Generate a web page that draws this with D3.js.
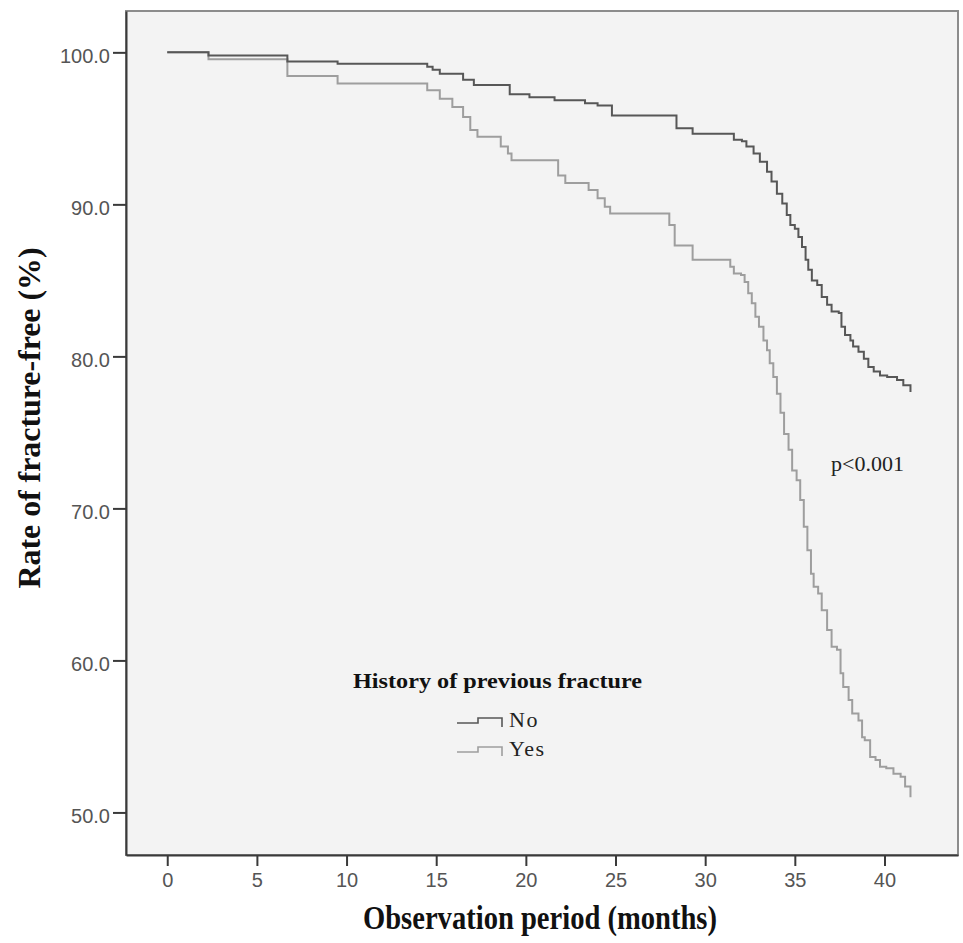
<!DOCTYPE html>
<html>
<head>
<meta charset="utf-8">
<script src="https://cdn.jsdelivr.net/npm/d3@7"></script>
<style>
  body { margin: 0; background: #fff; }
  svg { display: block; }
</style>
</head>
<body>
<script>
const W = 963;
const H = 943;

// Kaplan-Meier steps (months, % fracture-free)
const noMonths = [0, 2.3, 6.7, 9.5, 14.5, 14.8, 15.2, 16.5, 17.1, 19.1, 20.2, 21.6, 23.3, 24.0, 24.8, 28.4, 29.3, 31.6, 32.05, 32.3, 32.7, 33.05, 33.45, 33.7, 34.0, 34.3, 34.55, 34.75, 35.0, 35.2, 35.4, 35.6, 35.75, 35.95, 36.25, 36.5, 36.8, 37.05, 37.45, 37.6, 37.8, 38.1, 38.25, 38.55, 38.85, 39.1, 39.4, 39.75, 40.15, 40.7, 41.05, 41.45];
const noRates = [100, 99.8, 99.4, 99.25, 99.05, 98.85, 98.6, 98.2, 97.85, 97.25, 97.05, 96.85, 96.65, 96.5, 95.85, 95.0, 94.65, 94.25, 94.15, 93.8, 93.35, 92.8, 92.15, 91.5, 90.7, 90.05, 89.3, 88.65, 88.4, 87.85, 87.2, 86.35, 85.7, 85.0, 84.7, 83.9, 83.4, 82.95, 82.85, 81.95, 81.4, 81.05, 80.65, 80.3, 79.85, 79.3, 79.0, 78.75, 78.65, 78.45, 78.1, 77.65];

const yesMonths = [0, 2.3, 6.7, 9.5, 14.5, 15.2, 15.9, 16.5, 16.9, 17.3, 18.6, 19.0, 19.2, 21.8, 22.2, 23.5, 24.0, 24.4, 24.7, 28.0, 28.3, 29.3, 31.4, 31.6, 32.0, 32.2, 32.4, 32.6, 32.8, 33.0, 33.25, 33.45, 33.6, 33.8, 34.0, 34.2, 34.4, 34.65, 34.85, 35.1, 35.3, 35.5, 35.7, 35.9, 36.05, 36.3, 36.5, 36.8, 37.05, 37.35, 37.55, 37.7, 38.0, 38.2, 38.55, 38.75, 38.9, 39.2, 39.5, 39.75, 40.1, 40.5, 40.9, 41.15, 41.45];
const yesRates = [100, 99.55, 98.45, 97.95, 97.5, 96.95, 96.4, 95.75, 94.9, 94.45, 93.8, 93.35, 92.9, 91.9, 91.4, 90.95, 90.4, 89.85, 89.4, 88.65, 87.3, 86.35, 85.9, 85.45, 85.35, 84.9, 84.15, 83.5, 82.6, 81.95, 81.05, 80.4, 79.55, 78.65, 77.55, 76.3, 74.9, 73.85, 72.5, 71.85, 70.55, 68.8, 67.25, 65.7, 64.85, 64.4, 63.3, 62.0, 60.9, 60.7, 59.15, 58.25, 57.4, 56.5, 56.05, 54.95, 54.75, 53.65, 53.45, 53.0, 52.9, 52.55, 52.35, 51.7, 51.0];

const groups = ['No', 'Yes'];
const groupColors = ['#575757', '#9e9e9e'];
const xTicks = [0, 5, 10, 15, 20, 25, 30, 35, 40];
const yTicks = [50, 60, 70, 80, 90, 100];
const yMinorTicks = [48, 52, 54, 56, 58, 62, 64, 66, 68, 72, 74, 76, 78, 82, 84, 86, 88, 92, 94, 96, 98, 102];

const xTitle = 'Observation period (months)';
const yTitle = 'Rate of fracture-free (%)';
const legendTitle = 'History of previous fracture';
const pText = 'p<0.001';

const SERIF = '"Liberation Serif", "Times New Roman", serif';
const SANS = '"Liberation Sans", Arial, sans-serif';

const plot = { left: 126, right: 958, top: 11, bottom: 855 };

const x = d3.scaleLinear().domain([-2.3, 44.1]).range([plot.left, plot.right]);
const y = d3.scaleLinear().domain([47.2, 102.72]).range([plot.bottom, plot.top]);

const svg = d3.select('body').append('svg').attr('width', W).attr('height', H);

// plot background + frame
svg.append('rect')
  .attr('x', plot.left)
  .attr('y', plot.top)
  .attr('width', plot.right - plot.left)
  .attr('height', plot.bottom - plot.top)
  .attr('fill', '#f3f3f3')
  .attr('stroke', '#8c8c8c')
  .attr('stroke-width', 2);

// curves, "Yes" first so "No" sits on top where they overlap
{
  const series = [
    { color: groupColors[1], pts: yesMonths.map((m, i) => ({ m, r: yesRates[i] })) },
    { color: groupColors[0], pts: noMonths.map((m, i) => ({ m, r: noRates[i] })) },
  ];
  const line = d3.line()
    .x((d) => x(d.m))
    .y((d) => y(d.r))
    .curve(d3.curveStepAfter);

  svg.append('g')
    .selectAll('path')
    .data(series)
    .enter()
    .append('path')
    .attr('d', (d) => line(d.pts))
    .attr('fill', 'none')
    .attr('stroke', (d) => d.color)
    .attr('stroke-width', 2);
}

// y axis
{
  const g = svg.append('g').attr('transform', `translate(${plot.left},0)`);
  g.call(d3.axisLeft(y).tickValues(yMinorTicks).tickSize(6).tickSizeOuter(0).tickFormat(''));
  g.call(d3.axisLeft(y).tickValues(yTicks).tickSize(13).tickSizeOuter(0).tickPadding(3).tickFormat(d3.format('.1f')));
  g.selectAll('.domain').attr('stroke', '#3a3a3a').attr('stroke-width', 2);
  g.selectAll('.tick line').attr('stroke', '#3a3a3a').attr('stroke-width', 2);
  g.selectAll('text')
    .attr('dy', '0.52em')
    .attr('fill', '#555')
    .attr('font-family', SANS)
    .attr('font-size', 20);
}

// x axis
{
  const g = svg.append('g').attr('transform', `translate(0,${plot.bottom})`);
  g.call(d3.axisBottom(x).tickValues(xTicks).tickSize(11).tickSizeOuter(0).tickPadding(7));
  g.selectAll('.domain').attr('stroke', '#3a3a3a').attr('stroke-width', 2);
  g.selectAll('.tick line').attr('stroke', '#3a3a3a').attr('stroke-width', 2);
  g.selectAll('text')
    .attr('fill', '#555')
    .attr('font-family', SANS)
    .attr('font-size', 20);
}

// titles
svg.append('text')
  .text(xTitle)
  .attr('x', 540)
  .attr('y', 929)
  .attr('text-anchor', 'middle')
  .attr('font-family', SERIF)
  .attr('font-weight', 'bold')
  .attr('font-size', 33)
  .attr('textLength', 354)
  .attr('lengthAdjust', 'spacingAndGlyphs')
  .attr('fill', '#111');

svg.append('text')
  .text(yTitle)
  .attr('transform', 'translate(40,418)rotate(-90)')
  .attr('text-anchor', 'middle')
  .attr('font-family', SERIF)
  .attr('font-weight', 'bold')
  .attr('font-size', 32)
  .attr('textLength', 341)
  .attr('lengthAdjust', 'spacingAndGlyphs')
  .attr('fill', '#111');

// p value
svg.append('text')
  .text(pText)
  .attr('x', 831)
  .attr('y', 471)
  .attr('font-family', SERIF)
  .attr('font-size', 22)
  .attr('fill', '#222');

// legend
{
  const g = svg.append('g');
  g.append('text')
    .text(legendTitle)
    .attr('x', 353)
    .attr('y', 688)
    .attr('font-family', SERIF)
    .attr('font-weight', 'bold')
    .attr('font-size', 22)
    .attr('textLength', 289)
    .attr('lengthAdjust', 'spacingAndGlyphs')
    .attr('fill', '#111');

  const item = g.selectAll('g.item')
    .data(groups)
    .enter()
    .append('g')
    .attr('class', 'item')
    .attr('transform', (d, i) => `translate(457,${723 + i * 29})`);

  // little step glyph, same as SPSS draws
  item.append('path')
    .attr('d', 'M0,0H21V-5H45V4')
    .attr('fill', 'none')
    .attr('stroke', (d, i) => groupColors[i])
    .attr('stroke-width', 1.6);

  item.append('text')
    .text((d) => d)
    .attr('x', 52)
    .attr('y', 4)
    .attr('font-family', SERIF)
    .attr('font-size', 22)
    .attr('letter-spacing', 1.5)
    .attr('fill', '#222');
}
</script>
</body>
</html>
